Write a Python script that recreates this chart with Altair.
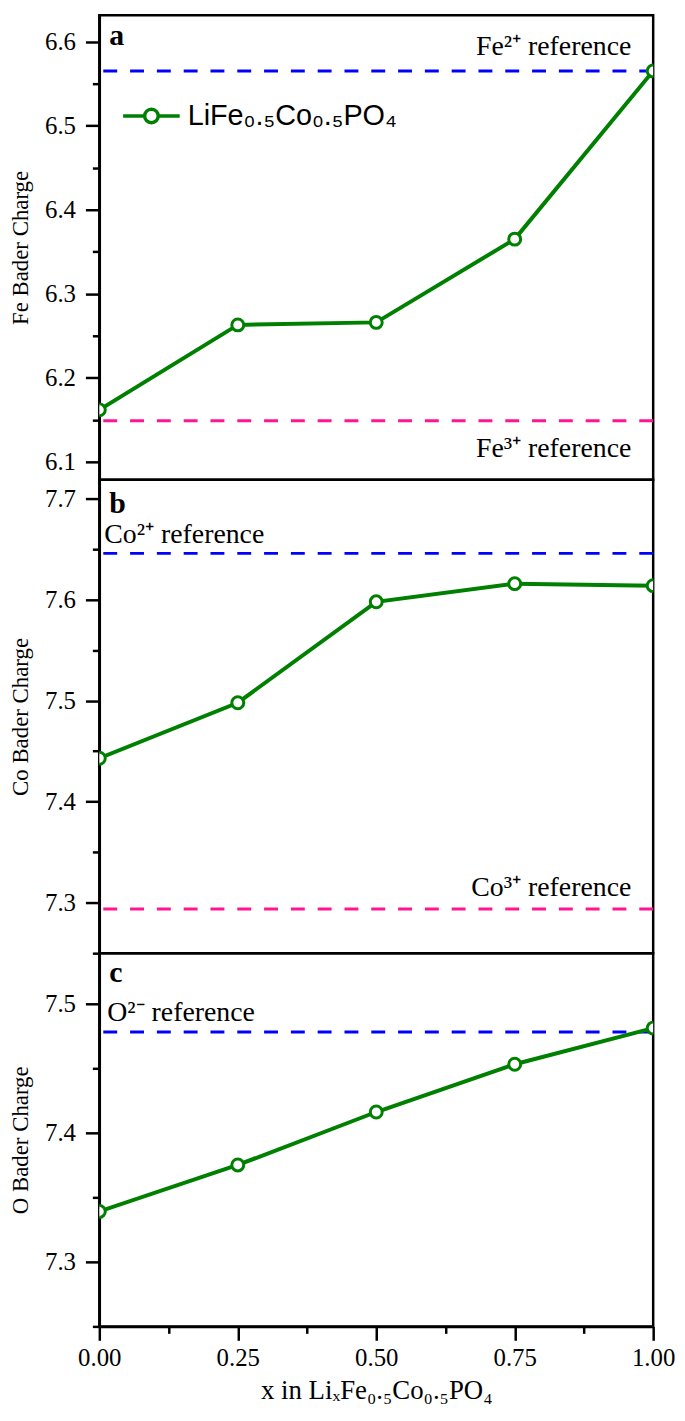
import altair as alt
import pandas as pd

# ---------------- data ----------------
x_frac = [0.0, 0.25, 0.5, 0.75, 1.0]
fe_bader = [6.162, 6.263, 6.266, 6.365, 6.565]
co_bader = [7.443, 7.498, 7.598, 7.616, 7.614]
o_bader = [7.339, 7.375, 7.416, 7.453, 7.481]

series_name = "LiFe\u2080.\u2085Co\u2080.\u2085PO\u2084"

fe_ref_labels = ["Fe\u00b2\u207a reference", "Fe\u00b3\u207a reference"]
fe_ref_values = [6.565, 6.149]
co_ref_labels = ["Co\u00b2\u207a reference", "Co\u00b3\u207a reference"]
co_ref_values = [7.646, 7.2935]
o_ref_labels = ["O\u00b2\u207b reference"]
o_ref_values = [7.478]

# tick positions (major + minor)
fe_ticks = [6.10, 6.15, 6.20, 6.25, 6.30, 6.35, 6.40, 6.45, 6.50, 6.55, 6.60]
co_ticks = [7.25, 7.30, 7.35, 7.40, 7.45, 7.50, 7.55, 7.60, 7.65, 7.70]
o_ticks = [7.25, 7.30, 7.35, 7.40, 7.45, 7.50]
x_ticks = [0.0, 0.125, 0.25, 0.375, 0.5, 0.625, 0.75, 0.875, 1.0]

# ---------------- style ----------------
GREEN = "#008000"
BLUE = "#0000FF"
PINK = "#FF1493"
SERIF = "Liberation Serif"
W = 558
TICK_FS = 25
REF_FS = 28

major_y = "abs(datum.value*10 - round(datum.value*10)) < 0.001"
major_x = "abs(datum.value*4 - round(datum.value*4)) < 0.001"


def tick_dash(test):
    return {"condition": {"test": test, "value": [14, 0]}, "value": [7, 40]}


xscale = alt.Scale(domain=[0, 1], nice=False, zero=False)
x_axis = alt.Axis(
    values=x_ticks,
    labelExpr=f"{major_x} ? format(datum.value, '.2f') : ''",
    tickSize=14,
    tickDash=tick_dash(major_x),
    title="x in Li\u2093Fe\u2080.\u2085Co\u2080.\u2085PO\u2084",
    labelFont=SERIF, labelFontSize=TICK_FS, labelColor="black",
    titleFont=SERIF, titleFontSize=27, titleFontWeight="normal", titleColor="black",
    labelFlush=False,
    labelPadding=5,
    titlePadding=8,
    grid=False,
)


def panel(values, domain, ticks, ytitle, letter, letter_dy, refs, height,
          show_x=False, legend=False):
    yscale = alt.Scale(domain=domain, nice=False, zero=False)
    y_axis = alt.Axis(
        values=ticks,
        labelExpr=f"{major_y} ? format(datum.value, '.1f') : ''",
        tickSize=14,
        tickDash=tick_dash(major_y),
        title=ytitle,
        labelFont=SERIF, labelFontSize=TICK_FS, labelColor="black",
        titleFont=SERIF, titleFontSize=23, titleFontWeight="normal", titleColor="black",
        labelPadding=10,
        titlePadding=12,
        grid=False,
    )
    xenc = alt.X("x:Q", scale=xscale, axis=x_axis if show_x else None)
    yenc = alt.Y("charge:Q", scale=yscale, axis=y_axis)

    layers = []
    # reference lines + labels
    for lab, val, col, xpos, align, dx, dy in refs:
        rdf = pd.DataFrame({"x": [xpos], "charge": [val], "label": [lab]})
        layers.append(
            alt.Chart(rdf).mark_rule(color=col, strokeWidth=3, strokeDash=[14, 13])
            .encode(y=yenc)
        )
        layers.append(
            alt.Chart(rdf).mark_text(align=align, baseline="alphabetic", dx=dx, dy=dy,
                                     font=SERIF, fontSize=REF_FS, color="black")
            .encode(x=xenc, y=yenc, text="label:N")
        )

    df = pd.DataFrame({"x": x_frac, "charge": values, "series": [series_name] * len(values)})
    line_enc = dict(x=xenc, y=yenc)
    if legend:
        line_enc["color"] = alt.Color(
            "series:N",
            scale=alt.Scale(domain=[series_name], range=[GREEN]),
            legend=alt.Legend(
                orient="none", legendX=22, legendY=71, title=None,
                symbolType="M-1,0L-0.24,0M0.24,0L1,0M-0.24,0A0.24,0.24,0,1,1,0.24,0A0.24,0.24,0,1,1,-0.24,0",
                symbolSize=3249, symbolStrokeWidth=3.5, symbolFillColor="white",
                labelFont="Liberation Sans", labelFontSize=29, labelColor="black",
                labelOffset=6, labelLimit=0,
            ),
        )
        line = alt.Chart(df).mark_line(strokeWidth=4, clip=True).encode(**line_enc)
    else:
        line = alt.Chart(df).mark_line(strokeWidth=4, clip=True, color=GREEN).encode(**line_enc)
    layers.append(line)
    layers.append(
        alt.Chart(df).mark_point(shape="circle", filled=True, fill="white", stroke=GREEN,
                                 strokeWidth=3, size=144, opacity=1, clip=True)
        .encode(x=xenc, y=yenc)
    )
    ldf = pd.DataFrame({"x": [0.0], "charge": [domain[1]], "label": [letter]})
    layers.append(
        alt.Chart(ldf).mark_text(align="left", baseline="alphabetic", dx=10, dy=letter_dy,
                                 font=SERIF, fontSize=30, fontWeight="bold", color="black")
        .encode(x=xenc, y=yenc, text="label:N")
    )
    return alt.layer(*layers).properties(width=W, height=height)


pa = panel(
    fe_bader, [6.0789, 6.6313], fe_ticks, "Fe Bader Charge", "a", 30,
    [(fe_ref_labels[0], fe_ref_values[0], BLUE, 1.0, "right", -22, -16),
     (fe_ref_labels[1], fe_ref_values[1], PINK, 1.0, "right", -22, 36)],
    468, legend=True,
)
pb = panel(
    co_bader, [7.2498, 7.719], co_ticks, "Co Bader Charge", "b", 34,
    [(co_ref_labels[0], co_ref_values[0], BLUE, 0.0, "left", 5, -10),
     (co_ref_labels[1], co_ref_values[1], PINK, 1.0, "right", -22, -13)],
    477,
)
pc = panel(
    o_bader, [7.25, 7.539], o_ticks, "O Bader Charge", "c", 29,
    [(o_ref_labels[0], o_ref_values[0], BLUE, 0.0, "left", 8, -11)],
    376, show_x=True,
)

chart = (
    alt.vconcat(pa, pb, pc, spacing=0, bounds="flush")
    .properties(padding={"left": 0, "top": 0, "right": 0, "bottom": 0})
    .configure(font=SERIF)
    .configure_view(stroke="black", strokeWidth=2.5)
    .configure_axis(
        domainColor="black", domainWidth=2.5, tickColor="black", tickWidth=2.5,
        labelFont=SERIF, labelFontSize=TICK_FS, labelColor="black",
        titleFont=SERIF, titleFontSize=23, titleFontWeight="normal", titleColor="black",
    )
)

chart.save("out.html", embed_options={"renderer": "svg", "actions": False})
